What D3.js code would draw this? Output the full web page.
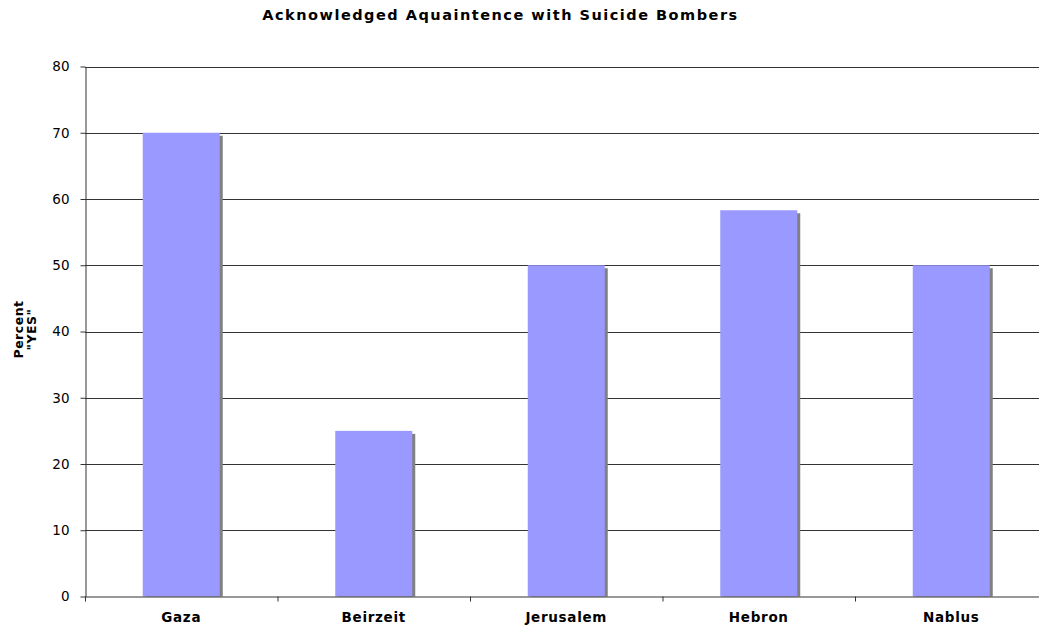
<!DOCTYPE html>
<html>
<head>
<meta charset="utf-8">
<script src="https://cdn.jsdelivr.net/npm/d3@7/dist/d3.min.js"></script>
<style>
  html, body { margin: 0; padding: 0; background: #fff; }
  svg { display: block; font-family: "DejaVu Sans", Verdana, sans-serif; }
</style>
</head>
<body>
<svg id="chart" width="1039" height="631"></svg>
<script>
// Survey sites and share answering "YES"
const categories = ["Gaza", "Beirzeit", "Jerusalem", "Hebron", "Nablus"];
const values = [70, 25, 50, 58.3, 50];
const yTicks = [0, 10, 20, 30, 40, 50, 60, 70, 80];
const titleText = "Acknowledged Aquaintence with Suicide Bombers";
const yTitleLines = ["Percent", "\"YES\""];

const svg = d3.select("#chart");
const plotLeft = 85, plotTop = 66.5, plotBottom = 596.5;
const bandStep = 192.5;
const plotRight = plotLeft + bandStep * categories.length;

const x = d3.scaleBand().domain(categories).range([plotLeft, plotRight]).paddingInner(0).paddingOuter(0);
const y = d3.scaleLinear().domain([0, 80]).range([plotBottom, plotTop]);

// Title
svg.append("text")
  .attr("x", 500.5).attr("y", 20)
  .attr("text-anchor", "middle")
  .attr("font-weight", "bold")
  .attr("font-size", 14.5)
  .attr("letter-spacing", 1.5)
  .text(titleText);

// Gridlines
svg.append("g").selectAll("line").data(yTicks.filter(d => d > 0)).join("line")
  .attr("x1", plotLeft).attr("x2", plotRight)
  .attr("y1", d => Math.round(y(d)) + 0.5).attr("y2", d => Math.round(y(d)) + 0.5)
  .attr("stroke", "#333").attr("stroke-width", 1);

// Bars with drop shadow
const barW = x.bandwidth() * 0.4;
const bars = svg.append("g");
bars.selectAll("rect.shadow").data(values).join("rect")
  .attr("class", "shadow")
  .attr("x", (d, i) => x(categories[i]) + (x.bandwidth() - barW) / 2 + 3)
  .attr("y", d => y(d) + 3)
  .attr("width", barW)
  .attr("height", d => plotBottom - y(d) - 3)
  .attr("fill", "#808080");
bars.selectAll("rect.bar").data(values).join("rect")
  .attr("class", "bar")
  .attr("x", (d, i) => x(categories[i]) + (x.bandwidth() - barW) / 2)
  .attr("y", d => y(d))
  .attr("width", barW)
  .attr("height", d => plotBottom - y(d))
  .attr("fill", "#9999FF");

// Y axis
const yAxis = svg.append("g")
  .attr("transform", `translate(${plotLeft + 0.5},0)`)
  .call(d3.axisLeft(y).tickValues(yTicks).tickSize(5).tickSizeOuter(0).tickFormat(d3.format("d")));
yAxis.select(".domain").attr("stroke", "#333");
yAxis.selectAll(".tick line").attr("stroke", "#333");
yAxis.selectAll(".tick text")
  .attr("font-size", 13.5).attr("fill", "#000")
  .attr("font-family", "DejaVu Sans, Verdana, sans-serif")
  .attr("x", -16);

// X axis
const xAxis = svg.append("g")
  .attr("transform", `translate(0,${plotBottom})`)
  .call(d3.axisBottom(x).tickSize(0).tickSizeOuter(0));
xAxis.select(".domain").attr("stroke", "#333");
xAxis.selectAll(".tick text")
  .attr("font-size", 13.5).attr("font-weight", "bold").attr("fill", "#000")
  .attr("letter-spacing", 0.7)
  .attr("font-family", "DejaVu Sans, Verdana, sans-serif")
  .attr("dy", 0)
  .attr("y", 25.5);
// Category separators
svg.append("g").selectAll("line").data(d3.range(categories.length + 1)).join("line")
  .attr("x1", i => plotLeft + i * bandStep + 0.5).attr("x2", i => plotLeft + i * bandStep + 0.5)
  .attr("y1", plotBottom).attr("y2", plotBottom + 5)
  .attr("stroke", "#333");

// Y axis title
const yTitle = svg.append("text")
  .attr("transform", `translate(24,${(plotTop + plotBottom) / 2 - 2}) rotate(-90)`)
  .attr("text-anchor", "middle")
  .attr("font-weight", "bold")
  .attr("font-size", 12.5)
  .attr("letter-spacing", 0.5);
yTitle.selectAll("tspan").data(yTitleLines).join("tspan")
  .attr("x", 0).attr("dy", (d, i) => i === 0 ? -1 : 13)
  .text(d => d);
</script>
</body>
</html>
